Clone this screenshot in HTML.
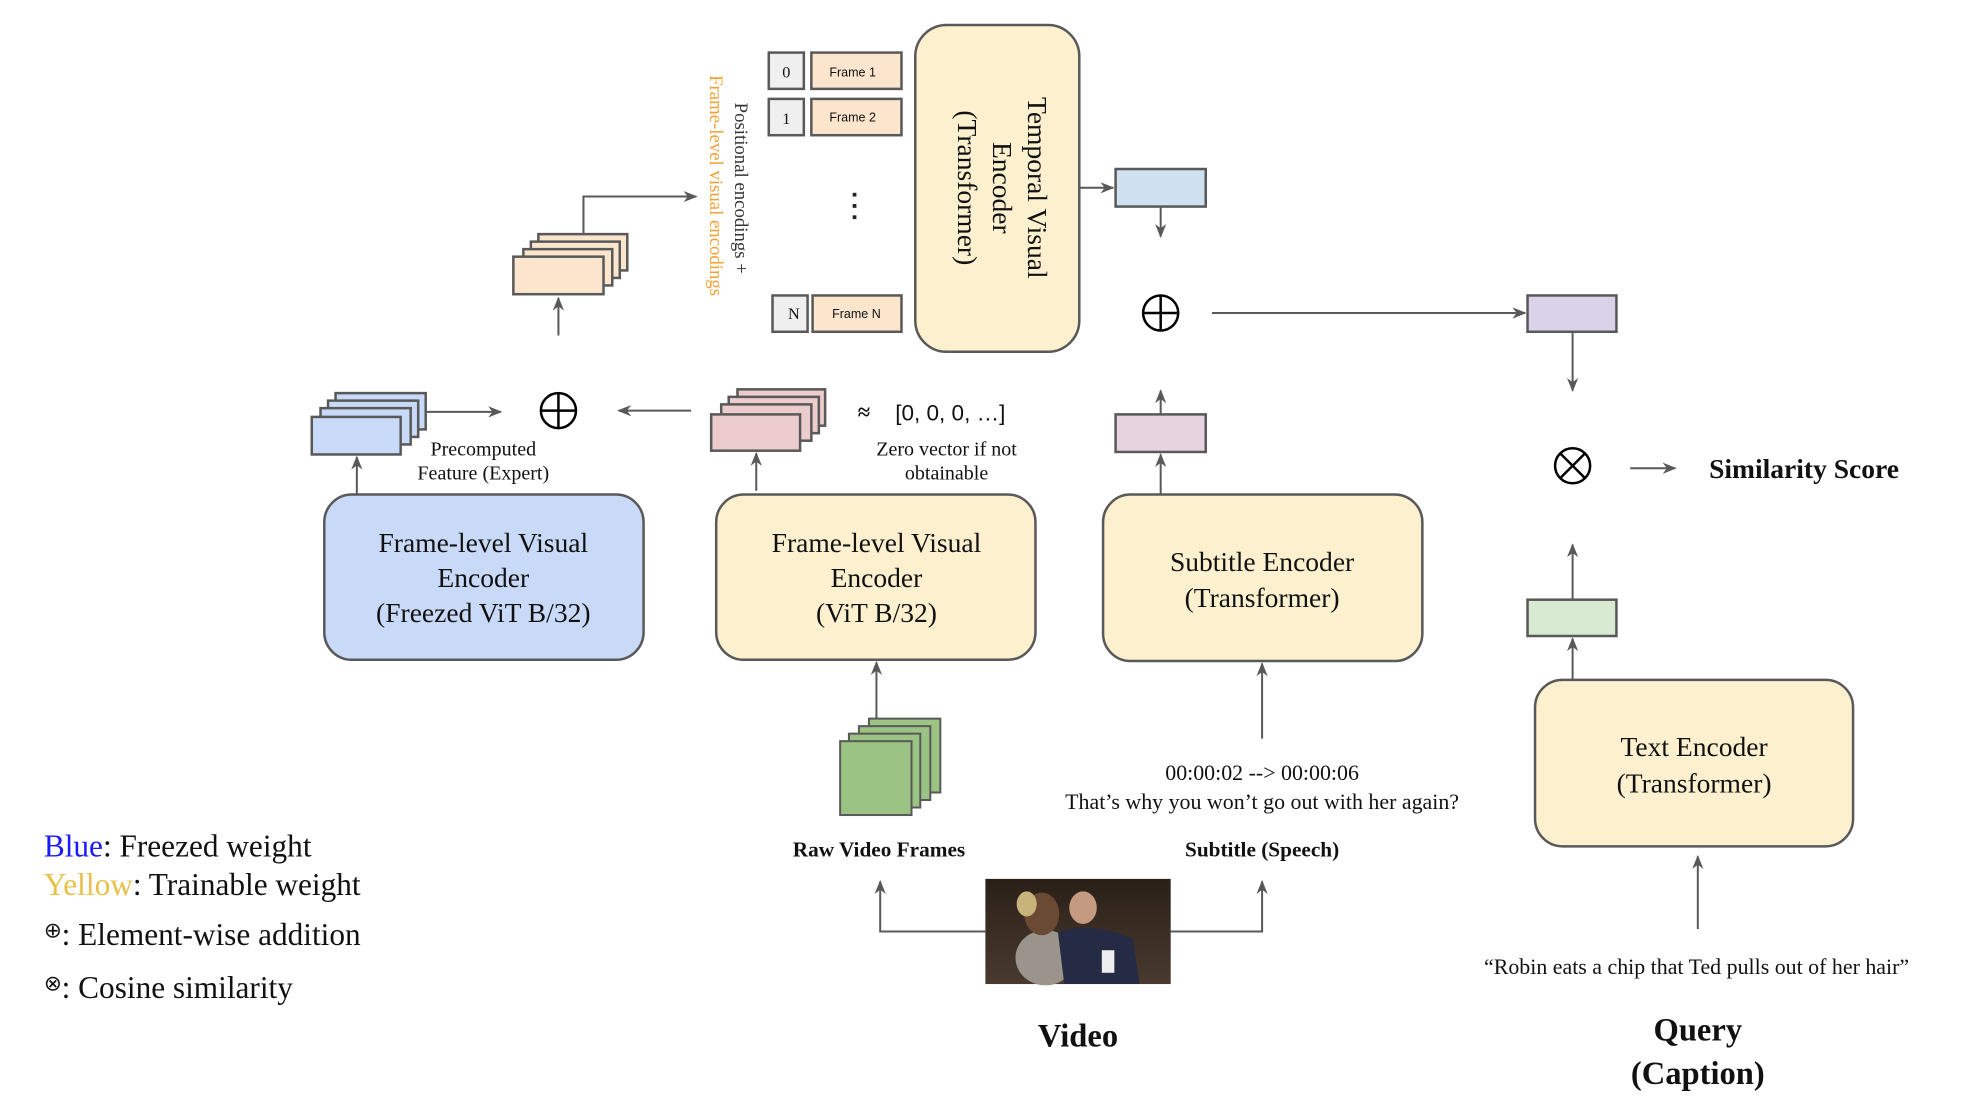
<!DOCTYPE html>
<html><head><meta charset="utf-8"><style>
html,body{margin:0;padding:0;background:#fff;width:1962px;height:1113px;overflow:hidden}
svg{display:block}
text{font-family:"Liberation Serif",serif;fill:#111}
.sans{font-family:"Liberation Sans",sans-serif}
</style></head><body>
<svg width="1962" height="1113" viewBox="0 0 1567 889" preserveAspectRatio="none" xmlns="http://www.w3.org/2000/svg">
<defs>
<marker id="a" viewBox="0 0 10 10" refX="9" refY="5" markerWidth="7" markerHeight="7" orient="auto-start-reverse"><path d="M0,1 L10,5 L0,9 L3,5 z" fill="#595959"/></marker>
<linearGradient id="vg" x1="0" y1="0" x2="0" y2="1"><stop offset="0" stop-color="#2a2018"/><stop offset="1" stop-color="#4a3a30"/></linearGradient>
</defs>
<g stroke="#595959" stroke-width="1.6" fill="none">
<rect x="731" y="20" width="131" height="261" rx="25" fill="#fcf0cf" stroke-width="2"/>
<rect x="614" y="42" width="28" height="29" fill="#efefef" stroke-width="2"/>
<rect x="648" y="42" width="72" height="29" fill="#fce5cd" stroke-width="2"/>
<rect x="614" y="79" width="28" height="29" fill="#efefef" stroke-width="2"/>
<rect x="648" y="79" width="72" height="29" fill="#fce5cd" stroke-width="2"/>
<rect x="617" y="236" width="28" height="29" fill="#efefef" stroke-width="2"/>
<rect x="649" y="236" width="71" height="29" fill="#fce5cd" stroke-width="2"/>
<rect x="891" y="135" width="72" height="30" fill="#cfe0f1" stroke-width="2"/>
<line x1="862" y1="150" x2="889" y2="150" marker-end="url(#a)"/>
<line x1="927" y1="165" x2="927" y2="189" marker-end="url(#a)"/>
<line x1="968" y1="250" x2="1218" y2="250" marker-end="url(#a)"/>
<rect x="1220" y="236" width="71" height="29" fill="#d9d2e9" stroke-width="2"/>
<line x1="1256" y1="265" x2="1256" y2="312" marker-end="url(#a)"/>
<line x1="1302" y1="374" x2="1338" y2="374" marker-end="url(#a)"/>
<rect x="1220" y="479" width="71" height="29" fill="#d9ead3" stroke-width="2"/>
<line x1="1256" y1="479" x2="1256" y2="435" marker-end="url(#a)"/>
<line x1="1256" y1="543" x2="1256" y2="510" marker-end="url(#a)"/>
<rect x="1226" y="543" width="254" height="133" rx="22" fill="#fcf0cf" stroke-width="2"/>
<line x1="1356" y1="742" x2="1356" y2="684" marker-end="url(#a)"/>
<rect x="881" y="395" width="255" height="133" rx="22" fill="#fcf0cf" stroke-width="2"/>
<rect x="891" y="331" width="72" height="30" fill="#e6d3df" stroke-width="2"/>
<line x1="927" y1="395" x2="927" y2="363" marker-end="url(#a)"/>
<line x1="927" y1="331" x2="927" y2="312" marker-end="url(#a)"/>
<line x1="1008" y1="590" x2="1008" y2="530" marker-end="url(#a)"/>
<rect x="572" y="395" width="255" height="132" rx="22" fill="#fcf0cf" stroke-width="2"/>
<rect x="259" y="395" width="255" height="132" rx="22" fill="#c9daf8" stroke-width="2"/>
<g fill="#9bc383" stroke-width="1.6">
<rect x="694" y="574" width="57" height="59"/><rect x="686" y="580" width="57" height="59"/><rect x="678" y="586" width="57" height="59"/><rect x="671" y="592" width="57" height="59"/>
</g>
<line x1="700" y1="574" x2="700" y2="529" marker-end="url(#a)"/>
<g fill="#eccccc" stroke-width="2">
<rect x="589" y="311" width="70" height="29"/><rect x="582" y="317" width="72" height="29"/><rect x="576" y="323" width="72" height="29"/><rect x="568" y="331" width="71" height="29"/>
</g>
<line x1="604" y1="392" x2="604" y2="362" marker-end="url(#a)"/>
<line x1="552" y1="328" x2="494" y2="328" marker-end="url(#a)"/>
<g fill="#c9daf8" stroke-width="2">
<rect x="268" y="314" width="72" height="29"/><rect x="262" y="320" width="72" height="29"/><rect x="256" y="326" width="72" height="29"/><rect x="249" y="333" width="71" height="30"/>
</g>
<line x1="285" y1="395" x2="285" y2="365" marker-end="url(#a)"/>
<line x1="340" y1="329" x2="400" y2="329" marker-end="url(#a)"/>
<g fill="#fce5cd" stroke-width="2">
<rect x="430" y="187" width="71" height="29"/><rect x="424" y="193" width="71" height="29"/><rect x="418" y="199" width="71" height="29"/><rect x="410" y="205" width="72" height="30"/>
</g>
<line x1="446" y1="268" x2="446" y2="238" marker-end="url(#a)"/>
<polyline points="466,187 466,157 556,157" marker-end="url(#a)"/>
<polyline points="787,744 703,744 703,704" marker-end="url(#a)"/>
<polyline points="935,744 1008,744 1008,704" marker-end="url(#a)"/>
</g>
<g stroke="#000" stroke-width="2" fill="none">
<circle cx="927" cy="250" r="14"/><line x1="913" y1="250" x2="941" y2="250"/><line x1="927" y1="236" x2="927" y2="264"/>
<circle cx="446" cy="328" r="14"/><line x1="432" y1="328" x2="460" y2="328"/><line x1="446" y1="314" x2="446" y2="342"/>
<circle cx="1256" cy="372" r="14"/><line x1="1246" y1="362" x2="1266" y2="382"/><line x1="1266" y1="362" x2="1246" y2="382"/>
</g>
<rect x="787" y="702" width="148" height="84" fill="url(#vg)"/>
<ellipse cx="835" cy="765" rx="24" ry="22" fill="#9a948c"/>
<ellipse cx="832" cy="730" rx="14" ry="17" fill="#6b4a34"/>
<ellipse cx="865" cy="725" rx="11" ry="13" fill="#c49a80"/>
<path d="M845,745 Q870,735 905,750 L910,786 L850,786 z" fill="#252a45"/>
<rect x="880" y="759" width="10" height="18" fill="#eee"/>
<ellipse cx="820" cy="722" rx="8" ry="10" fill="#c8b37a"/>
<g fill="#222"><rect x="681" y="154" width="3" height="3"/><rect x="681" y="163" width="3" height="3"/><rect x="681" y="172" width="3" height="3"/></g>
<text class="sans" x="681" y="61" font-size="10" text-anchor="middle">Frame 1</text>
<text class="sans" x="681" y="97" font-size="10" text-anchor="middle">Frame 2</text>
<text class="sans" x="684" y="254" font-size="10" text-anchor="middle">Frame N</text>
<text x="628" y="62" font-size="13" text-anchor="middle">0</text>
<text x="628" y="99" font-size="13" text-anchor="middle">1</text>
<text x="634" y="255" font-size="13" text-anchor="middle">N</text>
<g transform="translate(796,150) rotate(90)" font-size="22" text-anchor="middle">
<text x="0" y="-25">Temporal Visual</text>
<text x="0" y="3">Encoder</text>
<text x="0" y="31">(Transformer)</text>
</g>
<text transform="translate(587,82) rotate(90)" font-size="15" style="fill:#333">Positional encodings +</text>
<text transform="translate(567,60) rotate(90)" font-size="15" style="fill:#f6a033">Frame-level visual encodings</text>
<text x="1365" y="382" font-size="22" font-weight="bold">Similarity Score</text>
<g font-size="22" text-anchor="middle">
<text x="1353" y="604">Text Encoder</text><text x="1353" y="633">(Transformer)</text>
<text x="1008" y="456">Subtitle Encoder</text><text x="1008" y="485">(Transformer)</text>
<text x="700" y="441">Frame-level Visual</text><text x="700" y="469">Encoder</text><text x="700" y="497">(ViT B/32)</text>
<text x="386" y="441">Frame-level Visual</text><text x="386" y="469">Encoder</text><text x="386" y="497">(Freezed ViT B/32)</text>
</g>
<g font-size="17.5" text-anchor="middle">
<text x="1355" y="778">“Robin eats a chip that Ted pulls out of her hair”</text>
<text x="1008" y="623">00:00:02 --&gt; 00:00:06</text>
<text x="1008" y="646">That’s why you won’t go out with her again?</text>
</g>
<g font-size="16" text-anchor="middle">
<text x="756" y="364">Zero vector if not</text><text x="756" y="383">obtainable</text>
<text x="386" y="364">Precomputed</text><text x="386" y="383">Feature (Expert)</text>
</g>
<g font-size="17" font-weight="bold" text-anchor="middle">
<text x="702" y="684">Raw Video Frames</text><text x="1008" y="684">Subtitle (Speech)</text>
</g>
<g font-size="26" font-weight="bold" text-anchor="middle">
<text x="861" y="836">Video</text><text x="1356" y="831">Query</text><text x="1356" y="866">(Caption)</text>
</g>
<text x="690" y="335" font-size="18" font-weight="bold" text-anchor="middle">≈</text>
<text class="sans" x="715" y="336" font-size="18">[0, 0, 0, …]</text>
<g font-size="25">
<text x="35" y="684"><tspan style="fill:#1a1aff">Blue</tspan>: Freezed weight</text>
<text x="35" y="715"><tspan style="fill:#e8c14a">Yellow</tspan>: Trainable weight</text>
<text x="35" y="755"><tspan font-size="17" dy="-6">⊕</tspan><tspan dy="6">: Element-wise addition</tspan></text>
<text x="35" y="797"><tspan font-size="17" dy="-6">⊗</tspan><tspan dy="6">: Cosine similarity</tspan></text>
</g>
</svg>
</body></html>
